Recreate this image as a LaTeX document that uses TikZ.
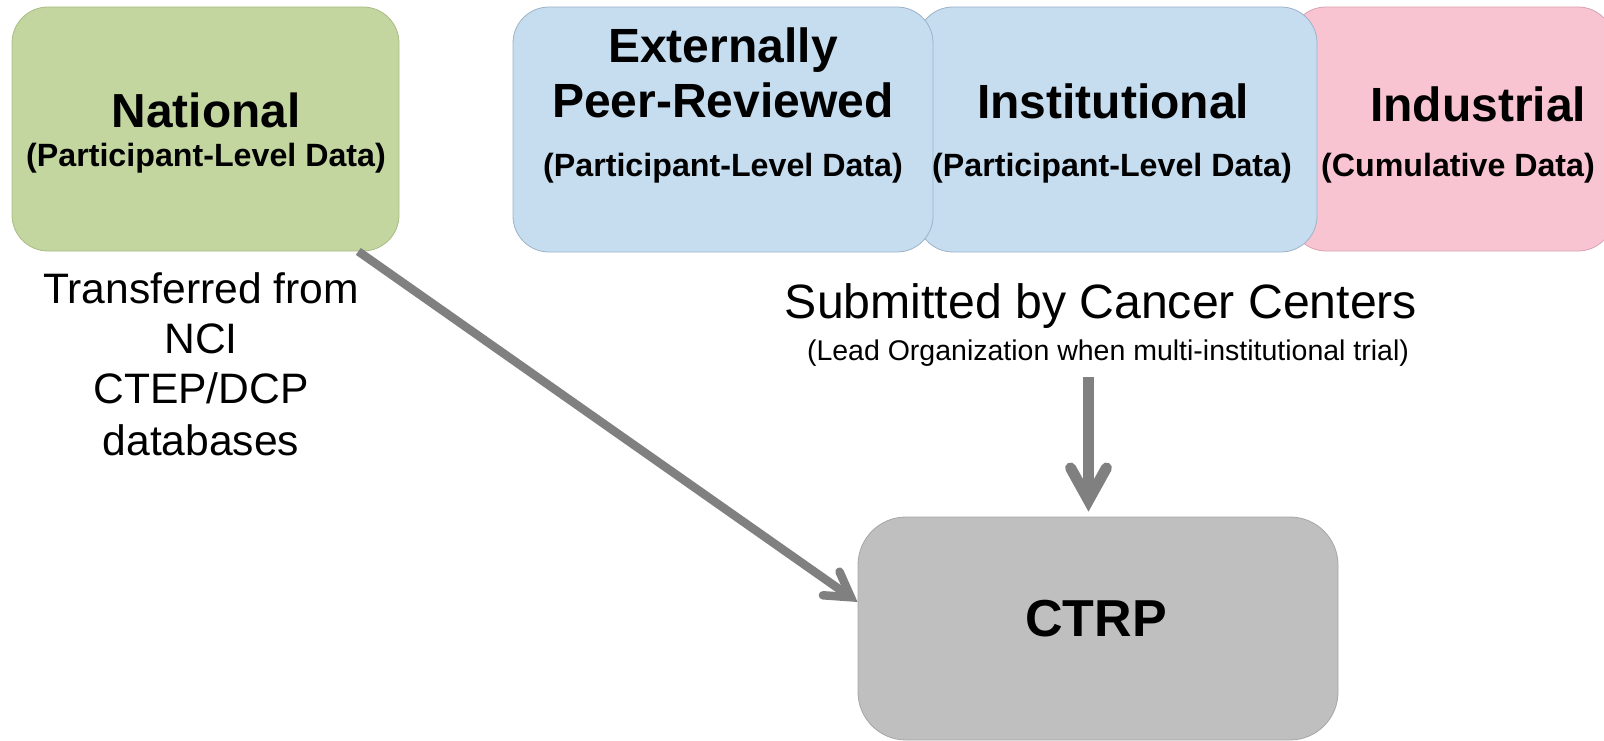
\documentclass[tikz,border=0pt]{standalone}
\usepackage{fontspec}
\setmainfont{Liberation Sans}
\usetikzlibrary{calc}

\definecolor{natfill}{HTML}{C4D6A0}
\definecolor{natedge}{HTML}{A9BC86}
\definecolor{sitefill}{HTML}{C6DDF0}
\definecolor{siteedge}{HTML}{9DB3C9}
\definecolor{indfill}{HTML}{F8C4D2}
\definecolor{indedge}{HTML}{D9A3B2}
\definecolor{ctrpfill}{HTML}{BFBFBF}
\definecolor{ctrpedge}{HTML}{A6A6A6}
\definecolor{flowgray}{HTML}{808080}

\begin{document}
\begin{tikzpicture}[x=1pt,y=-1pt,
  box/.style={line width=0.8pt, rounded corners=36pt, inner sep=0pt},
  title/.style={anchor=base, inner sep=0pt, font=\fontsize{48}{52}\selectfont\bfseries},
  subtitle/.style={anchor=base, inner sep=0pt, font=\fontsize{32.2}{36}\selectfont\bfseries},
  note/.style={anchor=base, inner sep=0pt, font=\fontsize{42.6}{48}\selectfont},
  remark/.style={anchor=base, inner sep=0pt, font=\fontsize{28.5}{32}\selectfont},
  flow/.style={draw=flowgray, line width=#1},
  flowhead/.style={draw=flowgray, line width=#1, line cap=round, line join=miter}]

\useasboundingbox (0,0) rectangle (1604,741);
\clip (0,0) rectangle (1604,741);

% source boxes (drawn back to front)
\node[box, draw=natedge, fill=natfill, minimum width=387pt, minimum height=244pt] (nat) at (205.5,129) {};
\node[box, draw=indedge, fill=indfill, minimum width=324pt, minimum height=244pt] (ind) at (1452,129) {};
\node[box, draw=siteedge, fill=sitefill, minimum width=400pt, minimum height=245pt] (inst) at (1117,129.5) {};
\node[box, draw=siteedge, fill=sitefill, minimum width=420pt, minimum height=245pt] (ext) at (723,129.5) {};

% registry box
\node[box, rounded corners=48pt, draw=ctrpedge, fill=ctrpfill, minimum width=480pt, minimum height=223pt] (ctrp) at (1098,628.5) {};

% box labels
\node[title, font=\fontsize{47.8}{52}\selectfont\bfseries] (natT) at (206,128) {National};
\node[subtitle] (natS) at (206,167) {(Participant-Level Data)};

\node[title] (extT1) at (723,63) {Externally};
\node[title] (extT2) at (723,118) {Peer-Reviewed};
\node[subtitle] (extS) at (723,177) {(Participant-Level Data)};

\node[title] (instT) at (1113,119) {Institutional};
\node[subtitle] (instS) at (1112,177) {(Participant-Level Data)};

\node[title] (indT) at (1478,122) {Industrial};
\node[subtitle] (indS) at (1458,177) {(Cumulative Data)};

\node[title, font=\fontsize{52}{58}\selectfont\bfseries] (ctrpT) at (1096,636) {CTRP};

% captions
\node[note] (tr1) at (201,303) {Transferred from};
\node[note] (tr2) at (201,353) {NCI};
\node[note] (tr3) at (201,403) {CTEP/DCP};
\node[note] (tr4) at (201,455) {databases};

\node[note, font=\fontsize{48.2}{52}\selectfont] (sub) at (1101,318) {Submitted by Cancer Centers};
\node[remark] (lead) at (1108,360) {(Lead Organization when multi-institutional trial)};

% transfer arrow: National -> CTRP
\coordinate (dA) at ($(nat.south west)!0.894!(nat.south east)$);
\coordinate (dB) at ($(ctrp.west)+(0,-26.5)$);
\coordinate (dT) at ($(dB)!8.25pt!(dA)$);
\draw[flow=8.5pt] (dA) -- (dT);
\draw[flowhead=8.5pt] ($(dT)!28pt!31:(dA)$) -- (dT) -- ($(dT)!28pt!-31:(dA)$);

% submission arrow: cancer centers -> CTRP
\coordinate (vS) at (1088.5,377);
\coordinate (vE) at ($(vS |- ctrp.north)+(0,-5)$);
\coordinate (vT) at ($(vE)!11.3pt!(vS)$);
\draw[flow=11pt] (vS) -- (vT);
\draw[flowhead=11pt] ($(vT)!37pt!29:(vS)$) -- (vT) -- ($(vT)!37pt!-29:(vS)$);

\end{tikzpicture}
\end{document}
